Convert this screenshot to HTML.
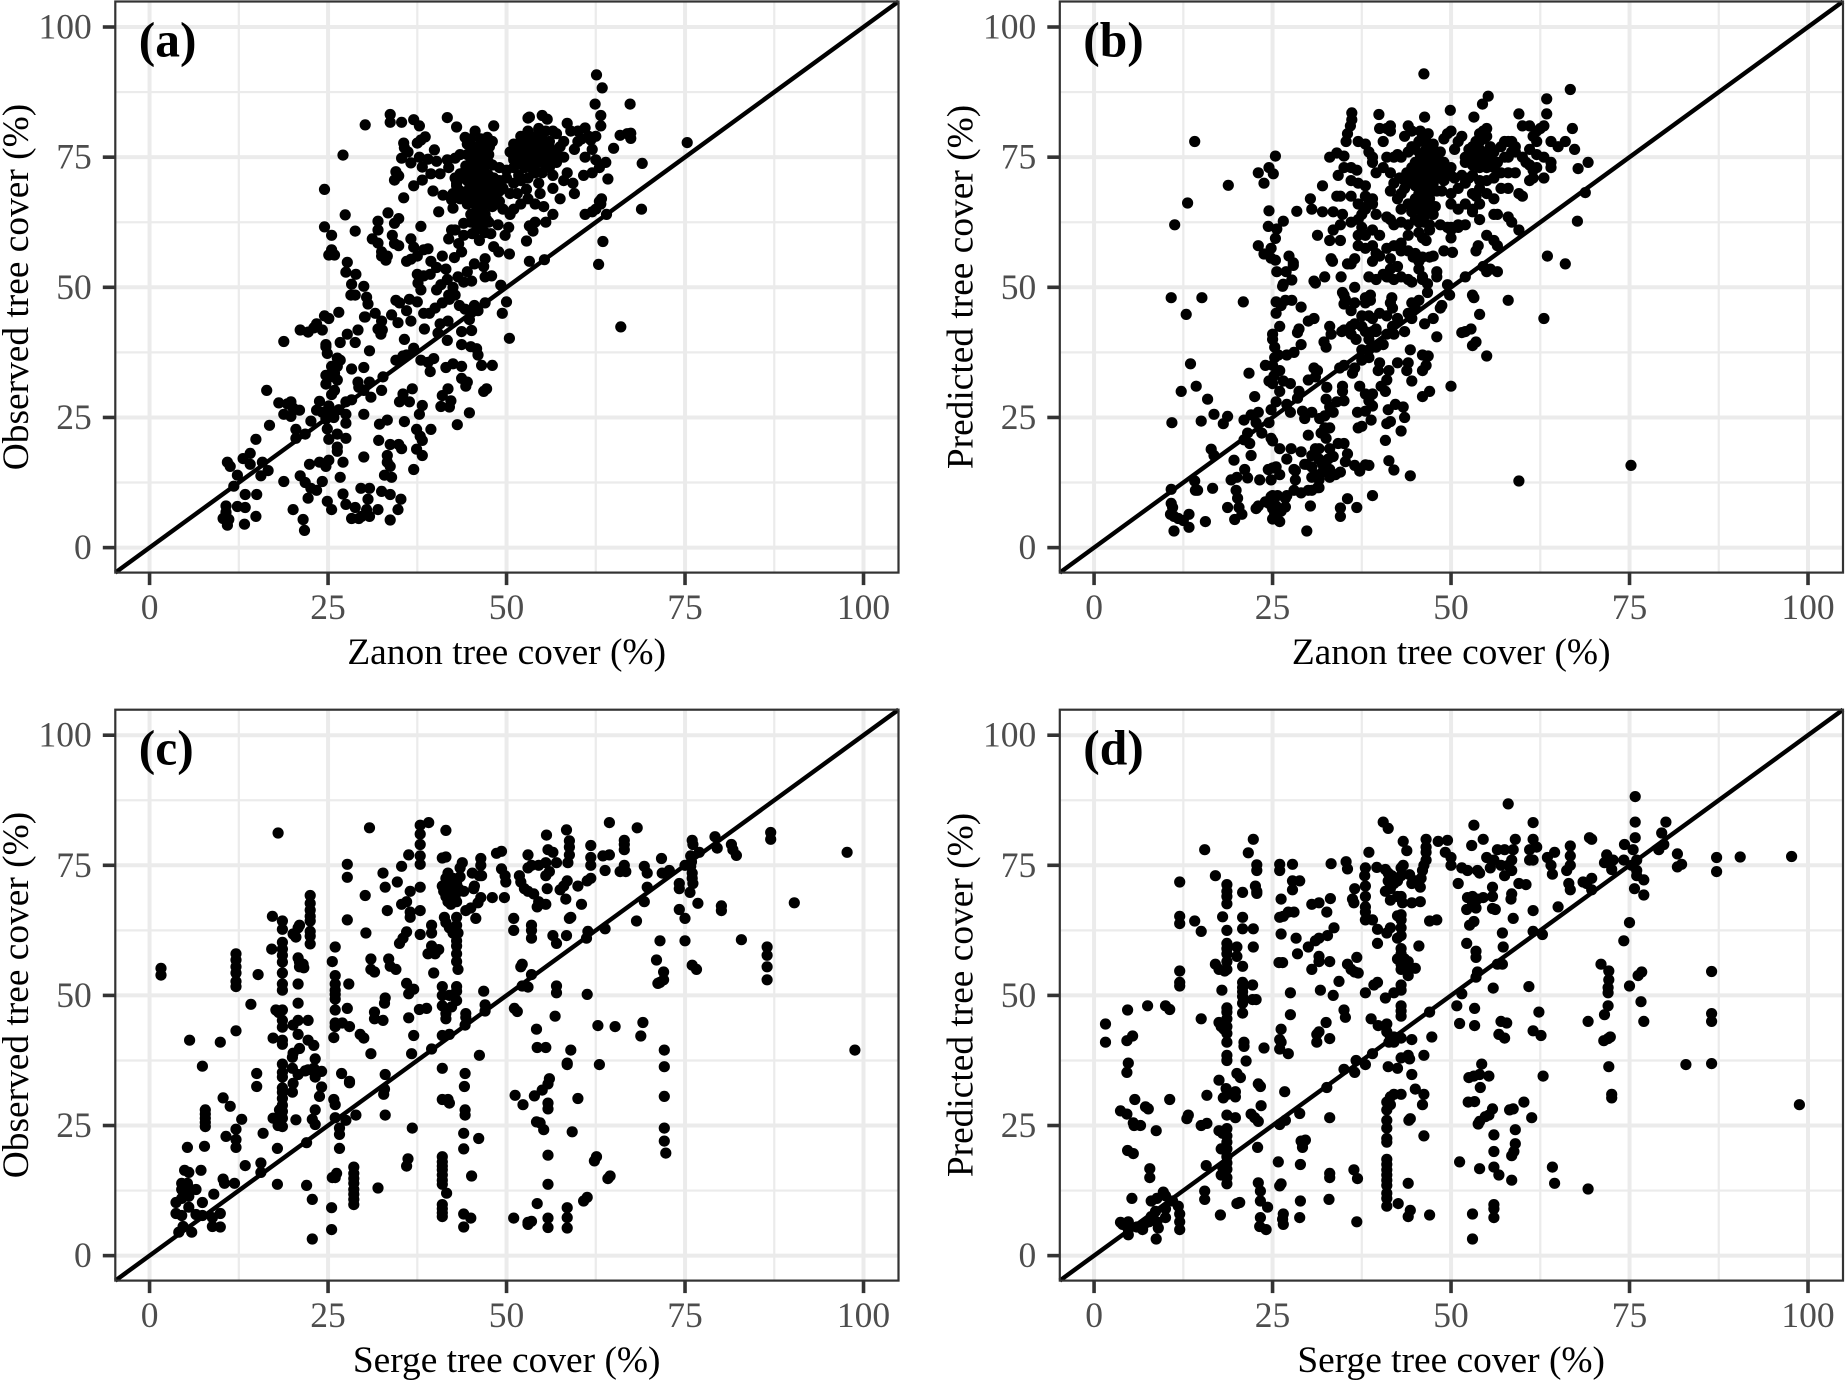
<!DOCTYPE html>
<html lang="en">
<head>
<meta charset="utf-8">
<title>Tree cover scatter plots</title>
<style>
html,body{margin:0;padding:0;background:#fff;width:1845px;height:1380px;overflow:hidden}
svg{display:block}
text{font-family:"Liberation Serif",serif}
.tick{font-size:35.5px;fill:#4d4d4d}
.title{font-size:37.4px;fill:#000}
.tag{font-size:49.5px;font-weight:bold;fill:#000}
</style>
</head>
<body>
<svg id="chart" xmlns="http://www.w3.org/2000/svg" width="1845" height="1380" viewBox="0 0 1845 1380">
  <rect width="1845" height="1380" fill="#fff"/>
  <g id="panel-a">
    <text class="title" x="506.7" y="664" text-anchor="middle">Zanon tree cover (%)</text>
    <text class="title" transform="translate(28,287) rotate(-90)" text-anchor="middle">Observed tree cover (%)</text>
  </g>
  <g id="panel-b">
    <text class="title" x="1451.2" y="664" text-anchor="middle">Zanon tree cover (%)</text>
    <text class="title" transform="translate(972.5,287) rotate(-90)" text-anchor="middle">Predicted tree cover (%)</text>
  </g>
  <g id="panel-c">
    <text class="title" x="506.7" y="1372" text-anchor="middle">Serge tree cover (%)</text>
    <text class="title" transform="translate(28,995) rotate(-90)" text-anchor="middle">Observed tree cover (%)</text>
  </g>
  <g id="panel-d">
    <text class="title" x="1451.2" y="1372" text-anchor="middle">Serge tree cover (%)</text>
    <text class="title" transform="translate(972.5,995) rotate(-90)" text-anchor="middle">Predicted tree cover (%)</text>
  </g>
</svg>
<script>
const majorTicks = [0, 25, 50, 75, 100];
const minorTicks = [12.5, 37.5, 62.5, 87.5];
const axisRange = [-4.8, 104.9];
const tagLabels = ["(a)", "(b)", "(c)", "(d)"];

const zanonObserved = [
[10.9,16.4],[11.3,15.6],[12.3,13.9],[11.8,11.8],[13.1,17.1],[14.1,18.1],[14.1,16],[14.9,20.8],[15.8,16.4],[16.6,14.8],[15.6,13.8],[18.8,12.7],[10.7,8],[10.7,6.8],[10.3,5.6],[11.1,5.4],[10.9,4.3],[12.3,7.9],[13.4,7.7],[13.4,10.2],[15,10.2],[13.3,4.5],[14.9,6],[20.1,7.3],[21.5,5.4],[21.7,3.3],[21.1,13.8],[21.8,12.5],[22.4,16],[22.6,11.4],[22.2,9.5],[23.4,11],[24.2,12.7],[23.8,16.4],[24.7,15.6],[25.1,16.8],[24.9,8.9],[25.5,7.3],[27.1,10.3],[27.5,8.3],[28.3,5.6],[29.3,5.6],[28.8,7.7],[29.6,11.4],[30.8,11.4],[30.6,9.3],[30.4,7.3],[30.8,6],[29.7,6],[32.5,10.8],[33.7,10.2],[32,7.3],[34.8,7.3],[35.2,9.3],[33.7,5.3],[27.1,16.4],[26.7,13.5],[30,17.4],[27.5,21],[26.3,18.5],[26.3,19.3],[25.1,20.8],[32.2,23.7],[33.3,24.5],[32.1,20.6],[33.7,19.8],[33.3,17.7],[33.3,16.4],[33.7,15.6],[32.9,13.9],[33.9,13.5],[34.9,19.8],[35.3,19],[37,15],[38.2,17.7],[37.4,18.9],[38.2,20.6],[39.4,22.7],[37.4,22.7],[37.9,21.4],[35.7,24.2],[37.8,25.6],[38.2,27.3],[30,25.6],[27.5,25.6],[27.5,23.9],[26.3,21.8],
[23.4,26.4],[23.8,28.1],[24.2,26],[25.1,27.2],[24.7,24.7],[25.5,29.4],[25.9,30.2],[24.7,31.4],[25.1,32.7],[25.9,33.5],[26.3,34.8],[26.7,36],[26.3,36.4],[25.5,34.8],[24.7,33.1],[27.5,28],[28.3,28.4],[26.3,32.2],[28.3,34.3],[30,34.6],[29.2,31.8],[29.3,30.8],[30.8,31.8],[31,28.9],[32.7,32.8],[32.5,30.2],[30,30.2],[22.6,24.3],[20.5,22.7],[20.5,21],[21.8,21.8],[24.9,22.8],[25.5,26],[26.5,26.5],[25.8,25],
[16.4,30.2],[18.1,27.8],[19.3,27.6],[19.8,28],[20.1,26.8],[21,26.4],[18.8,25.6],[19.8,25.2],[16.8,23.5],[18.8,39.6],[21.1,41.8],[22.2,41.4],[23,42.2],[23.4,43],[24.2,41.8],[24.5,44.5],[25.1,44],[26.5,45.2],[24.7,38.6],[24.9,37.3],[24.7,39],[26.7,39.4],[27.7,41],[28.8,39.4],[29.2,41.8],[30.2,44.3],[34.5,47.5],[35,47],[36.4,47.7],[36,45.5],[37.5,47.2],[38.4,45],[36.6,43.5],[38.5,42],[34.8,43.2],[35.7,40],[35.5,36.8],[34.5,36],[36,37],[37,38.3],[38,36],[39,35.6],[39.8,36.3],[39.3,33.8],[41.5,34.6],[42.5,35.3],[43.7,34.8],[43.7,32.5],[44.5,31.8],[44.3,31],[46.8,30],[47.2,30.5],[48,35],[46.5,35],[46,37],[45.8,38.2],[45,38.6],[43.7,39],[30.8,37.8],[32.4,41],[35,28],[35.5,29.5],[36.4,28],[36.8,30.5],[41,29.2],[41.8,30.5],[40.8,27.1],[42,27],[42.2,28.2],[44.8,25.9],[43.1,23.6],
[27.1,75.4],[24.5,68.8],[27.4,63.9],[24.5,61.6],[25.5,60],[28.8,60.8],[25.5,57.2],[25.1,56.2],[25.9,56.2],[27.7,54.8],[27.5,52.9],[28.9,52.5],[28.3,50.6],[28.2,48.5],[28.8,48.5],[30,50.2],[30.4,48.1],[30.6,46.8],[31.6,45],[30.1,44.3],[32.5,43.5],[32,42],[33.9,44.7],[32.6,41.8],[30.2,81.2],[33.7,83.2],[33.7,81.7],[35.3,81.7],[37,82.2],[37.8,81],[41.7,82.6],[43,80.8],[48.2,81],[38.6,78.9],[38,78.3],[37.5,77.7],[35.6,77.7],[35.7,76.8],[36.2,76],[35.3,74.8],[36.6,73.9],[37.8,75],[39,74.6],[40.2,74.2],[39.9,76.4],[41.7,74.5],[41.9,73],[40.7,71.8],[39.4,71.8],[38.2,73.1],[34.5,72.2],[34.9,71.4],[34.3,70.6],[37,69.5],[38.2,70.6],[35.6,67.2],[39.7,68.5],[41.1,67.7],[42.3,66.8],[40.5,64.5],[42.5,65.2],[33.4,64.3],[34.9,63.2],[34.3,62.3],[32,62.7],[32,61],[31.2,59.3],[32,58.5],[34,60],[34.3,58.4],[34.9,58],[32.5,56.8],[33.3,56],[32.5,56],[33.1,55.2],[38,61.7],[36.6,59.3],[37,57.7],[37.5,56],[38.4,57.2],[39,57.4],[36,55],[36.6,55.4],[39.4,55],[40.2,53.8],[41,56],[41.9,59.3],[42.3,61],[41.5,53.5],
[37.5,52.5],[38.4,52.2],[39.3,52.5],[37.6,50.8],[38,49.5],[40.2,49.5],[40.8,50.5],[41.7,51.5],[42.5,50],[41.9,48.5],[42,47.7],[42.8,48.5],[41,47],[40,46],[39.2,45],[41.8,43.5],[40.7,43],[40.4,41.2],[41.7,39.8],[43.4,46.5],[44.2,45.8],[45.1,45.2],[44.8,43.8],[43.7,41.5],[45.1,41.7],[45.5,46.5],[46,45.5],[47,47],[47.9,52.2],[49.4,45],[50,47.2],[49.2,50.4],[50.4,40.2],[55.3,55.3],[53.2,55],[43.2,52],[44,51],[45.1,51.2],[44.5,53],[45.5,54.5],[47,52],[47,55.5],[46.8,54],[48.2,57.8],[48.9,56.8],[50.4,56.4],[52.8,58.9],[49.8,60],[47.8,60.3],[46.2,59],[45.2,60.3],[44,60],[43.3,58.4],[43.7,56.8],[42.7,55.7],[45.8,63],[46.5,61.5],[47.5,62.5],[48.8,62],[50.3,61.5],[53.7,60.8],[53.2,61.8],[54,62.5],[55.5,62.5],[56.5,64],[42.8,61],[44,62.3],[45,64],[45.5,66],[46,65],[46.5,67],[47,64],[48,65.5],[49,66.5],[49.5,65],[50.5,64],[51,65],[52,66],[53,67],[54.7,68],[54,66],[55.2,65.5],[43.5,67],[44,68],[44.8,69],[43,69.5],[42.8,71],[44,71],[45,71.5],[45.5,70],[46.3,69.5],[47,69],[47.8,68.5],[48.5,68],[46,72],[46.8,72.5],[47.5,71.5],[48.2,71],[49,70.5],[45.2,73],[46,74],[47,74.5],[48,73.5],[49,73],[44.3,73.3],[43.5,71.8],[42.8,74.8],[43.5,75.5],[44.5,75.5],[45.5,75.8],[46.5,76],[47.5,75.5],[44.5,77.5],[45,78.5],[45.6,80],[46.4,78.5],[47.3,78.8],[48,78],[47.6,77],[46.8,77.5],[44.2,78.8],[50,72.5],[51,73],[50,71],[51,70],[52,70.5],[49.5,69],[50.5,68],[51.5,68],[52.8,68.8],[53,71],[53.8,72],[54.5,70],
[52,77.5],[52.5,76],[53,78],[53.5,77],[54,76],[54.5,75],[55,77],[55.5,76],[56,75],[53,75],[52,74],[51,74.5],[53.5,73],[54,74],[55,74],[56,73],[54,72],[55,72],[52.5,73],[53,74.5],[54,73.5],[55,75.5],[54,77],[56,77],[54,78],[55,78.5],[54.5,79],[56,78],[53.5,79],[52.5,78],[51.5,76.5],[54.5,80.5],[55.5,80],[55.7,82.3],[55,83],[53.2,82.7],[53,82.5],[57,79.5],[56.5,80],[58.5,81.5],[59,80],[60,80],[61,80.6],[62.5,79],[61.8,78.3],[60.5,78.5],[61.5,79],[60,78],[59.5,76.5],[61,75],[62,76.5],[62.5,74.5],[63,73],[62,72],[60.8,71.5],[59.3,70],[59.5,68],[58,70.5],[58.5,72],[56.5,71.5],[57,74],[58,75],[57,76],[58,78],[57.5,77],
[62.6,90.8],[63.4,88.3],[62.4,85.2],[67.3,85.2],[63.2,83],[63.2,81],[75.3,77.8],[69,73.8],[68.9,65],[66,42.4],[62.9,54.4],[63.5,58.8],[64.2,70.8],[63.9,74],[65,76.7],[65.9,79.2],[66.9,79.5],[67.4,79.6],[67.4,78.6],[63,66.5],[63.2,66],[64,64],[62.5,65],[62,64.5],[61,64],[63.3,67],
[44,72],[44.5,70.5],[45,72.5],[45.5,72.5],[46,71],[46.5,70.5],[47,70.5],[47.5,68],[46,68],[45.5,69],[44.8,67.5],[44.5,66],[45.5,67],[46.5,66],[47,66],[47.5,66],[46,64],[45,62.5],[46.5,62.8],[47,60.5],[48.5,69.5],[48,70],[46.8,73.5],[46.2,75],[45,74.8],[47,77.5],[46,77],[45,77],[47.5,74],[43,70],[43.5,68.5],[42.5,68],[48,67],[49,68.5],[48.5,66],[47.2,63],[46.6,64],[45.8,61],[50.5,76],[51,75],[52,75.5],[51,77.5],[52,79],[53,80],[51.7,71.5],[56.5,69],[57.5,67]
];

const zanonPredicted = [
[46.2,91],[75.2,15.8],[59.5,12.8],[66.7,88],[63.4,86.2],[55.2,86.7],[54.4,85.2],[49.9,84],[59.5,83.3],[63.4,83.3],[53.2,82.7],[46.3,82.7],[39.9,83.2],[36.1,83.5],[36.1,82.2],[35.9,81],[35.5,79.5],[35.3,78],[14.1,78],[13.1,66.2],[11.3,62],[18.8,69.6],[25.4,75.2],[23,72],[24.5,73],[25.1,71.8],[23.8,70],[24.5,64.7],[24.4,61.7],[26.5,62.7],[25.6,61.2],[25.4,59.4],[23,58],[24.8,57.5],[23.8,56.4],[24.8,55.6],[25.4,55.2],[25.6,53],[26.9,53],[26.5,50.6],[26.4,50.2],[27.7,51.4],[27.3,56],[27.9,54.7],[27.9,54.2],[28.4,64.6],[10.8,48],[15.1,48],[12.9,44.8],[20.9,47.2],[10.9,24],[12.2,30],[13.5,35.3],[14.3,31],[15.9,28.5],[15,24.3],[16.8,25.6],[18.7,25.2],[18.1,23.8],[16.4,18.9],[16.8,17.7],[19.6,16.8],[10.8,11.2],[14.1,12.8],[14.5,11],[14.2,11],[16.6,11.4],[15.6,5],[10.8,8.5],[11,7.7],[10.7,6.4],[11.2,6],[11.8,5.6],[13.3,6.4],[12.5,5.2],[13.3,3.9],[11.2,3.2],[18.7,7.7],[19.7,5.4],[20.3,7.7],[19.9,11],[20.1,9.5],[20.7,6.4],[19.2,13],[20,13.5],[21.1,15],[21.5,13.4],
[22.7,7.5],[23,8],[24,8.8],[24.5,8.5],[25,10],[25.7,10],[25,7.5],[25.3,6.5],[25,5.5],[26,5],[26.2,7],[26.8,7.8],[26.8,9.5],[28,11],[29,10.5],[30.3,8],[29.8,3.2],[30.5,11],[31.5,11.5],[23.2,13],[24.4,15],[25,15.3],[25.5,15.5],[24.8,13],[26,14],[27,17],[27.6,19],[28.2,13],[28.2,14.8],[29,18.4],[29.8,16],[30.5,15.5],[31.5,19],[30.5,17.7],[32,16],[32,14.5],[33,15],[33,13.5],[33.8,14],[34.5,14.5],[35.2,16.5],[36.5,15.8],[38,15.9],[38.5,15.8],[37.2,14.7],[35.5,9.4],[36.8,7.7],[34.5,7.6],[34.5,6],[39,10],[41.3,16.7],[42,14.9],[44.3,13.8],[40.8,20.6],[43,22.4],[41.5,24.2],[41,23.8],[43.5,25],[43.3,27],[42.2,27.5],[41.2,26.5],[37,23],[37.5,23.3],[38.8,24.5],[38,26.2],[36.9,26],[39,27.2],[38.5,28.2],[39,29.5],[40.2,31],[41,32.2],[40.8,30],[38,29.5],[37.2,31],[34.8,31],[34.8,30],[32.6,30.8],[32.5,28.5],[34,28],[35,28.2],[33,27],[33.5,26],[32.3,25.3],[30.5,26],[29.2,26.2],[29.5,24.8],[31.6,24.8],[32.3,23],[31.8,22],[31,19],[30,21.6],[27.5,26],[27,27.5],[28.5,28.7],[28.7,30],[30,32.2],[31,32.8],[30.8,34.5],[31.3,34],[34.4,34.5],[35,35],[36.5,34.5],[36.2,33.5],[37.5,36],[38.5,36.5],[39.8,34],[41.3,34],[40,35.5],[42.5,35.5],[44,35.5],[43.8,34],[44.5,32],[46,34],[46.5,35],[46,37],[46.8,36.8],[44.3,38],[46,29],[47,30],[50,31],
[25,20.5],[24.8,21],[26,19],[23.5,22],[22.7,24],[23,26],[24.5,24],[24.8,26.5],[22,25.5],[21,24.5],[21.5,22],[21.8,20],[21,20.7],[22,17.7],[22.5,29],[25.5,28],[26,30],[25,31.5],[24.5,32],[25.2,33],[26.5,32],[26,34],[25,35],[24,35],[21.7,33.5],[27.5,31.5],
[25,41],[25,40],[25.3,38.5],[25.8,37],[25.3,36.5],[28,37.5],[27,37],[26,42.5],[28.7,42],[28.5,41.3],[29,39],[30,43.5],[30.8,44],[25.5,45],[26.2,46.5],[25.5,47.2],[26.8,47.5],[27.7,47.5],[29,46.2],[31,50.8],[30.8,51.2],[32.3,52],[33.4,55],[33.2,55.5],[33,59],[31.3,60],[34.6,52],[34.8,49],[35.2,47.7],[35,46.8],[35,48.5],[36.5,50],[36.5,47],[36,45.5],[33,42.5],[33.2,41],[34.7,41.5],[35,41.8],[36,42.5],[32.2,39.5],[32.5,38.5],[36,41],[36.7,40],[37.5,38],[38.5,40],[38.5,38],[39.5,38.5],[40.5,39],[39.5,42],[41,41],[42,41],[43.5,41.5],[41.8,42.5],[42.5,44],[44,45],[44.5,44],[45,46],[44.5,47],[45.5,47.5],[46.3,43],[46.7,49],[48.5,46],[48.7,46.5],[47.5,44],[48,40.5],[49.5,50.5],[49.8,48.5],[52,52],[53,48.5],[53.2,48],[54,44.8],[52.8,42],[52,41.5],[51.5,41.3],[53.5,39.5],[53,38.8],[55,36.8],[58,47.5],[63,44],[63.5,56],[66,54.5],[55,53],[55.5,53.5],[56.5,53],[54.5,54],[55,60],[56,59],[56.5,58],[53.5,57],[53.8,58],[50.2,56.7],[49,57],[50,59.5],[48.5,62],[50,61.5],[51,61.5],[52,62],
[38,47],[38,48],[38.7,47.5],[38.7,48.5],[37.5,44.5],[39,44],[40,45],[41,44.5],[41.5,47],[41.7,48],[41.8,46],[36.5,43],[37.5,42.5],[38,41.5],[39,41.5],[39.5,41.5],[38.5,44.5],[38.5,52],[39.5,51.5],[41,52],[42,51.5],[40.5,52.5],[41.3,52],[43,52],[44,51.5],[44.5,51],[46,51.5],[46.7,50.7],[46,52],[48,53],[48,52],[45.5,55],[46,55.8],[47,55.8],[47.5,56],[45.5,53.5],[36,54.5],[35.5,54.5],[36.5,55.5],[37,58],[38,57.5],[39,58],[39.5,56.5],[40,56],[41,57.5],[42,58],[41.5,55.5],[43,57],[44,57],[44.7,55.8],[45,56.5],[39,55],[42.5,54],[41.5,53.5],[38,60],[39,61],[37,60],[37.5,61.5],[40,60],[43,58.5],[44,60],[46,59.5],[46.5,59],[34.5,59],[33.5,61],[34.5,62],[36,62.5],[37,63],[37.5,64],[34.8,64],[32,64.5],[33.5,64.5],[30.5,65],[30.3,67],[32,69.5],[34,67.5],[36,67.5],[37,66],[38,65],[39,66],[39.5,64],[41,63.5],[41.5,63],[42,62],[43,62.5],[44,62],[45,63],[45.5,62.5],[46,63.5],[47,62],[47.5,64],[47.8,65.5],[49.5,61.5],[50,61],[51,62],[53,64.5],[54,63],[56.5,64],[58,63.5],[58.5,62.5],[59.5,61],[59.5,68],[60,67.5],[58,69],[57,69],[56,67],[55,68],[54,66],[53,65],[52,66],[51,65],[50,66],[50,68],[51,69],[52,70],[53,68],[53.5,67.5],[54,69],
[33,75],[34,75.8],[35,75.2],[34.2,71.5],[34.5,67.5],[35,73],[36,73],[36.8,72.5],[36,70.5],[37,70],[38,69.5],[38,67.5],[39,67],[38.5,66],[37,78],[38,77.5],[38.5,76],[39,75],[39,74],[40.5,78],[40,80.5],[41,80.5],[41.5,81],[41.5,80],[44,81],[44.5,80],[43.5,79],[42,75],[41,75],[42.5,75.5],[43,75],[44,76],[44.5,77],[45,76.5],[45.5,78],[45.7,80],[46,79],[46.8,79.5],[46.5,78],[47.3,76],[47,75],[46,75],[45,74],[44.5,73],[43.8,72],[42.8,71],[41.5,72],[40.5,73],[39.5,72],[42,70],[41.5,68.5],[42.5,67],[43,68],[43.5,69],[44,70],[45,69.5],[45.5,71],[46,72],[46.5,73],[47.5,73],[48,74],[48.5,71],[49,70.5],[46,70],[46.5,69],[47,68],[47.5,70],[45.5,68],[45,67],[46,66.5],[46.5,65.5],[47,67],[44,66],[44.5,64.5],[43,65],[48,75],[48.5,76],[49,78.5],[49.5,79.5],[50,80],[50.5,76.5],[51,78],[51.5,79],[49,74],[50,73],[50.5,71],[51.5,71.5],[52.5,71],[53,71.5],[54,70.5],[55,70.5],[56,71],[57,72],[58,72],[59,72],[52,74],[52.5,75],[53,76],[53.5,75],[54,75],[54.5,76],[55,75],[55.5,74],[56,73],[56.5,74],[53,77],[53.5,78],[54,78],[54.5,78.5],[55,79],[54,79.5],[54.5,80],[55,80.5],[53.5,74],[54,73],[55,73],[55.5,77],[56,76],[57,77],[57.5,75],[58,75],[58.5,76],[59,77],[58,78],[59,76],[60,75],[60.5,74],[61,73.5],[61.5,72.5],[62,73],[61.5,71],[61,70.5],[63,71],[64,73],[64,74],[63,75],[62,75.5],[61,76.5],[62,78],[61.5,79],[62,80],[62.5,80.5],[63,81],[61,81],[60,81],[64,78],[65,77],[66,78],[67,80.5],[67.3,76.5],[67.8,72.8],[68.8,68.2],[69.2,74],[67.7,62.7],[57.5,78],[58.5,78],[56,64],
[45,72],[45.5,73],[46,73.5],[46.5,74],[47,72],[47.5,72],[46,71],[46.5,71],[45,70],[45.5,70],[46.7,70],[47.2,70.5],[46,68],[46.5,67.5],[47,66],[45.3,66],[45.5,65],[46.5,64],[45.7,75.5],[46.5,76.5],[47.5,77.5],[44.7,71],[44,71.5],[43.5,70.5],[48,71.5],[48.5,72.5],[49,72],[50,71.5],[47,69],[48,68.5],[48.7,68.5],[46.2,62.5],[47,61],[45.5,60.5],[52,75],[53,73.5],[54,76.5],[55,76],[55.5,75.5],[54.5,74],[52.5,76.5],[53.5,76],[28,15],[29.5,16],[31,14],[31.5,13],[32.8,17],[33,19],[31.5,17],[30.5,13.5],[30,11],[31.3,11.5],[33.5,17.5],[32.5,21],[33,23],[34.2,20],[35,20],[35.5,18],[27,10],[25.5,8],[24.8,9.8]
];

const sergeObserved = [
[1.6,55.2],[1.6,53.9],[5.6,41.4],[7.4,36.4],[9.9,41],[18,81.2],[30.8,82.2],[39.1,83.2],[37.9,82.7],[37.9,81],[37.9,79],[37.9,76.8],[37.9,75.2],[36.3,77],[41.5,81.7],[41,76.4],[41.5,76.6],[35.3,74.8],[34.7,71.8],[32.7,73.5],[33,70.8],[27.7,75.2],[27.7,72.7],[30.2,69.2],[27.7,64.5],[33.3,66.3],[36.5,70],[36,68],[35.3,67.5],[36.5,66],[36.5,65],[37.9,70.8],[37.9,66.3],[37.9,61.7],[30.3,62],[36,62.2],[35.5,61],[35,60],[39.5,63.5],[39.5,62],[39.5,59.5],[39,58],[40,58],[40.5,58.8],[39.8,54.3],
[22.5,69.2],[22.5,67.7],[22.5,66.4],[22.5,65.2],[22.5,64.3],[22.5,62.3],[22.5,61.4],[22.5,59.9],
[18.6,64.3],[18.6,62.7],[18.6,60.2],[18.6,58.9],[18.6,57.7],[18.6,56.4],[18.6,54.3],[18.6,52.2],[18.6,51],[18.6,47.2],[18.6,45.2],[18.6,43.9],[18.6,41.4],[18.6,40.6],[18.6,36.8],[18.6,35.2],[18.6,34.3],[18.6,32.2],[18.6,31.4],[18.6,30.2],[18.6,28.9],[18.6,27.7],[18.6,26.4],[18.6,24.8],
[17.2,65.2],[17.1,58.9],[17.7,47.2],[18.1,46.7],[17.3,41.8],[17.3,26.4],[17.9,20.6],[17.9,13.7],[21,63.5],[20.1,61.8],[20.5,61.2],[20.8,63],[20.8,57.2],[21,56.4],[21.6,55.3],[20.8,52.2],[20.8,48.5],[20.8,45.2],[20.1,44.3],[20.8,42.5],[20.1,38.9],[21,39.8],[20,38.1],[20,36],[20.8,34.8],[20.1,33.1],[20,31.4],[20.5,26.1],[18,25],[17.8,26.2],[18.2,28],[21.5,56],[21,55.5],
[22.2,45.2],[22.2,41.4],[23,40.4],[23.2,37.8],[23,36],[22.2,35.7],[21.8,35.5],[23.2,34.3],[24.1,35.4],[24.1,32.4],[23.8,30.6],[23.2,28],[22.8,26.2],[23.2,25.2],[22,21.7],[22,13.5],[22.8,10.8],[22.8,3.2],
[12.1,58],[12.1,56.8],[12.1,55.5],[12.1,54.3],[12.1,52.7],[12.1,51.7],[12.1,43.2],[12.1,24.3],[12.1,22.3],[12.1,20.8],[11.3,28.7],[10.3,30.3],[12.9,26.2],[10.7,22.9],[15.2,54],[14.2,48.3],[15,35],[15,32.5],[15.9,23.5],[13.4,17.3],[15.6,17.8],[15.6,16],[10.3,14.7],[10.5,13.9],[11.9,13.9],
[7.8,28],[7.8,27.2],[7.8,26.4],[7.8,25.6],[7.8,24.8],[7.7,21],[5.3,20.8],[7.2,16.4],[4.9,16.4],[5.5,16],[4.5,13.9],[5.3,13.9],[4.5,12.7],[5.5,13],[6.5,12.7],[5.5,11.4],[4.5,11],[3.7,10.2],[5.5,9.3],[7.4,10.2],[9,11.8],[3.7,8.1],[4.5,7.7],[6.5,7.9],[7.4,7.7],[8.8,7.3],[8.8,5.6],[9.9,8.1],[9.9,5.5],[4.1,4.5],[4.7,5.6],[5.9,4.5],
[26,59.3],[26,53.8],[26,52.2],[26,51],[26,50.2],[26,49.3],[25.6,56.5],[27.7,47.5],[26,47.2],[26,44.7],[26,44],[25.8,41.9],[27,44.7],[28,44],[29.5,42.5],[30,41.8],[27.9,52.2],[28,33.2],[28,33.5],[26.9,35],[25.8,30],[26,29],[26,26.5],[27.5,26],[26.6,24.5],[26.6,23.3],[26.6,20.6],[28.9,27],[25.6,15],[26.2,15.8],[26,15],[28.6,17],[28.6,15.8],[28.6,14.8],[28.6,13.9],[28.6,12.7],[28.6,11.8],[28.6,10.8],[28.6,9.8],[32,13],[25.5,9.2],[25.5,5],
[31,57],[31,55],[31.5,54.5],[33.5,57],[33.7,55.6],[34.5,55],[33,49.5],[32.9,48.5],[31.5,46.8],[31.5,45.5],[32.7,45.2],[36,52.3],[36.3,50.3],[37,51.2],[36.3,45.7],[37.8,47.3],[38.8,47.5],[37,42.3],[36.7,38.8],[39.5,39.7],[31,38.8],[33,34.8],[32.9,32],[32.8,31],[33,27],[36.8,24.5],[36.2,18.6],[36,17.2],
[41,51.7],[41,50],[41,48],[41.5,46.5],[41.5,45.5],[42.3,47.8],[42,50],[43,51.7],[43,50.8],[43,49],[42,42.5],[41,42.3],[41,36],[41,30],[41.8,30],[42,29.3],[41,19],[41,18],[41,17.2],[41,16.5],[41,15.5],[41,14.5],[41,13.7],[41.6,12],[41,9.8],[41,9],[41,8.2],[41,7.5],[44.2,27],[44.2,28],[44,23.5],[44,20.5],[44.2,35],[44.1,32.5],[44.3,46.5],[44.3,45.8],[44.2,44.3],[44,8],[44,5.5],[45,7.2],[45.1,15.3],[46.1,22.5],[46.2,38.5],
[41,71],[41.2,70],[41.5,72.5],[41.8,73.5],[42,72],[42.2,71],[42.5,70],[42.8,69],[43,68],[41.5,69],[41.8,68],[42.5,72.5],[43,71.5],[43.3,70.5],[43.5,72.8],[43.8,75.5],[43.5,74.5],[44,70],[42.2,67.5],[41.3,65],[41.5,64],[42,63],[42.5,62],[43,63.5],[43,65],[43.2,62],[43,60.5],[43,59.5],[43,58],[43,56.5],[43.2,55],[44.3,66.3],[45,66.8],[45.7,64.8],[46,67.8],[46.4,68.8],[45.4,70.5],[45.5,71],[46.2,73],[46.5,73],[45.2,73.5],[46.4,75],[46.4,76.3],[48,68.8],[49.7,68.8],[48.6,77.3],[49.3,77.7],[49.3,74.3],[49.8,73],[49.9,71.8],
[46.8,50.8],[47,48.2],[47,47],[51.1,47.5],[51.5,46.9],[52,55.5],[52.2,56],[52.2,51.8],[53,51.6],[53.5,54],[57,51.8],[57,50.5],[56.8,46],[55.5,67.5],[53.5,63.5],[53.5,62.5],[53.5,61],[51,64.8],[51,62.5],[51.8,73],[52,71.8],[52.5,70.5],[53,70],[53.8,69.5],[54.5,68],[54.3,67],[53,77],[53.5,75],[53,74.5],[54.5,75],[55.5,75.5],[55.5,73],[56,73.8],[55.7,70.5],[55.6,80.8],[55.8,78],[56.5,77.5],[57,75.5],[57.5,70.3],[58,71],[58.5,72],[58.3,68.5],[58.6,75.5],[58.8,77],[58.8,78.5],[58.8,79.7],[58.4,81.8],[59,65],[58.8,64.8],[56.5,61.5],[58.4,61.5],[57,60],[60,71],[60.5,67.5],[61.3,72],[61.8,72.5],[61.8,75],[61.8,76.5],[61.8,78.8],[61.4,62.3],[61.2,61],[63.8,62.8],[63.5,76.8],[64.4,77],[63.8,74],[64.4,83.2],[66.5,79.8],[66.5,79],[66.5,78],[66.5,75],[65.9,73.8],[66.7,73.8],[68.2,64.3],[68.3,82.2],[69.3,74.8],[69.7,73.5],[69.7,70.8],[69.3,68],[71.7,76.3],[71.8,73.5],[72.8,74],[74.2,71.5],[74.2,70.5],[74.2,66.5],[75,64.8],[75,60.5],[71.5,60.5],[71,56.8],[72,54.5],[72,53],[71.5,52.5],[71.2,52.3],
[54.2,43.5],[54.3,40],[55.5,40],[59,39.5],[58.5,37],[58.5,36.7],[56,34],[55.8,33],[53.9,30.7],[55,31.8],[55.8,29.3],[55.8,28.2],[60,30.2],[51.2,30.8],[52.3,29],[54.2,25.7],[54.7,25.5],[55.2,24.2],[59.2,23.8],[63,36.7],[62.8,44.2],[61.3,50.2],[65.2,44],[68.8,42.2],[69.1,44.8],[72.1,39.5],[72.1,36.3],[72.1,30.6],[72.1,24.5],[72.1,22],[72.3,19.7],[55.8,19.3],[62.3,18.2],[62.6,19],[64.2,14.8],[64.5,15.3],[61.3,11.2],[60.8,10.5],[55.8,13.7],[54.3,10],[58.5,9.2],[51,7.2],[53,6],[53,6.4],[53.5,6.6],[55.8,7.2],[55.8,5.4],[58.5,7.3],[58.5,5.3],
[76,79.8],[76.1,79],[75.8,76.8],[75.9,75.7],[75.8,74.8],[76,73.5],[76,72.5],[76.1,71.5],[75.7,69.8],[76.8,67.7],[77,77.5],[75,75],[79.2,80.5],[79.5,78.3],[81.5,79],[81.7,78],[82.2,76.9],[87,81.3],[87,80],[97.7,77.5],[90.3,67.8],[80.1,67.2],[80.1,66.3],[82.9,60.7],[86.5,59.3],[86.5,57.7],[86.5,55.5],[86.5,53],[76,55.8],[76.6,55],[98.8,39.5]
];

const sergePredicted = [
[1.6,44.5],[1.6,41],[4.7,47.2],[7.5,48],[10,48],[10.6,47.3],[5.4,42.2],[4.6,41.3],[4.8,37],[4.6,35.2],[5.7,30],[10.6,30],[7.2,28.6],[7.6,28.2],[3.7,27.8],[4.6,27.2],[5.5,25.5],[5.6,25],[6.5,25],[8.7,24],[4.7,20.2],[5.5,19.6],[7.8,16.7],[7.8,15],[5.3,11],[8,10.5],[8.8,11],[9.7,12.2],[10,11.5],[11,10.5],[3.7,6.4],[4,6],[4.8,6.5],[4.8,5],[4.8,4],[6,5.5],[6.8,5],[7,6],[7.7,6.5],[8,7.5],[8.6,8.5],[8.8,6.5],[9,5.3],[8.7,3.2],[10,7.3],[10,9],[11.8,9.5],[12,8],[12,6.5],[12,5],
[12,71.8],[12,65.2],[12,63.8],[12,54.7],[12,52.5],[12,51.8],[14.1,64.3],[15,62.3],[15.5,78],[17,73],[18,65.1],[17,56],[17.5,55],[18.3,54.7],[17.9,51],[15,45.5],[17.5,44.8],[17.8,44],[18.2,43.5],[13,26.3],[13.2,27],[15,25],[15.8,25.4],[15.8,30.8],[17.5,33.7],[18.1,30.3],[18.5,32.1],[18.7,31],[15.7,17.3],[15.5,12.4],[15.5,10.8],[17.7,7.8],
[18.6,71.3],[18.6,70],[18.6,69],[18.6,67.6],[18.6,62.5],[18.6,60],[18.6,59],[18.6,58],[18.6,56.5],[18.6,55],[18.6,47.6],[18.6,46.8],[18.6,45.5],[18.6,44],[18.6,42.7],[18.6,41],[18.6,38.5],[18.6,37.5],[18.6,27],[18.6,24.4],[18.6,23],[18.6,21.8],[18.6,20.5],[18.6,19],[18.6,17.8],[18.6,16.6],[18.6,15],[18.6,13.8],[17.5,24],[18,23.5],[17.8,20.5],[18,17],[17.8,15.5],
[20.8,69.8],[20.8,65],[20.8,62.8],[22.3,62.8],[22.3,59.3],[20,59.3],[20,57.5],[20.8,55.6],[20.8,52.5],[20.8,51.5],[20.8,50.7],[20.8,49.8],[20.8,48.5],[20.8,46.6],[22.2,52],[22.2,49.2],[22.7,49.2],[21,41],[21,40.2],[21.3,37.4],[20,35],[20.5,34.2],[19.8,31.5],[19.8,30.5],[19.8,26.5],[22,27.2],[22.5,26.5],[23,25.8],[23,33],[23.3,32.5],[23.4,28.8],[23.8,39.9],[22.9,20.8],[23,14],[23.3,12.4],[23.3,10.5],[24.3,9.3],[23.3,7.3],[23.2,5.6],[24.1,5],[20,10],[20.4,10.2],[22.3,80],[21.6,77.4],[22.8,75.1],[22.8,74],[22.6,71],[22.8,70],[22.8,69.6],
[26,75.2],[26,74],[26.2,68.5],[26,65],[26.5,65.2],[27.2,66],[28,66],[26.2,61.8],[25.9,56.3],[26.4,56.3],[28.5,58],[28.3,61],[28.8,72],[27.8,72],[27.8,70.3],[27.8,75.2],[27.5,50.5],[27.5,46.3],[26.2,43.5],[26,41.5],[26.2,41],[26,39.7],[27.2,38.8],[26.7,31.5],[26,25.2],[26.8,26],[28.8,27.3],[29,22],[29.2,21.5],[29.6,22.2],[29.2,20.8],[28.9,17.5],[25.8,18],[26,13.4],[26.2,13.8],[28.9,10.5],[26.5,8],[26.4,7],[26.5,6],[28.8,7.3],
[30,59.3],[31,60.5],[31.5,61],[31.5,57.5],[31.5,56.5],[30.5,55],[31.7,51],[30.5,67.5],[31.5,67.8],[32.6,66],[33.1,68.6],[33.2,75.3],[32.7,61.5],[33.6,63],[33,56.5],[33.5,50],[34.3,52.7],[35,47.2],[35.2,45.8],[35.3,75.7],[35.5,74.3],[35.5,56],[36,55],[36.5,54.5],[37,54.3],[36.8,57.3],[36.5,70.5],[36.2,68.5],[36.4,67.8],[38,74.5],[37.9,73],[38,71],[38,69],[38,67],[38,66],[38,64.5],[38.5,77.5],[39,64.5],[39.7,62.7],[39.7,60],[39.6,74.6],[38,50.5],[39.2,52],[39.7,52.5],[38.8,45.5],[39.8,44.2],[31.5,43],[31.2,42.5],[31.2,41],[32.5,44.8],[33,41.7],[32.6,32.3],[33,26.5],[33,15.8],[33,15],[32.9,10.8],[35,35.8],[36.5,35.2],[36.7,37.5],[38,36.7],[39,38.8],[36.4,16.5],[36.9,14.8],[36.8,6.5],
[40.5,83.3],[41.2,82.1],[40.8,74.2],[41.2,73.5],[41.7,73],[41.2,72],[41.5,71],[40.8,70],[41.5,70.5],[42,71.5],[42.5,72],[43,73],[43,74.5],[43.3,75],[44.2,73.2],[44.5,71.5],[45,72],[43.3,79.6],[43.8,77.8],[46,74],[46.2,75],[46.5,76],[46.5,77.5],[46.5,78.5],[46.5,80],[45.8,72.5],[45.7,70.8],[45.7,68],[44.5,67.8],[41.5,68.3],[42.5,69],[43,69],[43.2,67.8],[42.5,65.3],[43,65.5],[43,64.5],[43,63],[43,61.5],[42.5,61],[41,62],[41.5,63],[47,64.3],[48,64.5],[45.5,59.5],[43,59],[43,58],[42.5,57],[43,56],[43.5,57],[44,56.5],[43,55],[44,55],[45,55.2],[44,53.8],[43,52],[43,51],[42,50.5],[40.8,49.5],[43,48],[43,47],[43,46],[41,44.5],[41,43],[41.5,42],[41.3,41],[42,42],[43,41.8],[44.5,41.5],[46.2,38.5],[42,41],[43,38],[44,38.5],[44.2,37.8],[41.2,36.3],[42.5,36],[44.5,34.8],[45,32],[46.2,31],[46,29],[41.5,30.5],[42,31],[43,31],[41,29.5],[41.5,29],[41,28],[41,26],[41,24.5],[41,22.5],[41,21.8],[44.1,26],[44.3,26.3],[46.2,23],[41,18.5],[41,17.5],[41,16.5],[41,15.5],[41,14.5],[41,13.5],[41,12],[41,11],[41,9.5],[42.6,10],[44,13.9],[44.3,8.7],[44,7.5],[47,7.8],[47,46.8],[47.3,42],
[48.2,79.6],[49.5,79.8],[49.2,77.5],[50,75],[50,76.5],[51.5,74.5],[52.3,74],[51,71.5],[50.8,48],[51.2,44.6],[51.5,50.3],[52.2,60],[52.6,63.5],[52.2,66.5],[52.3,68.8],[53,69],[53,67.5],[53.7,68.5],[53.5,66.8],[53.2,64.2],[53.7,74],[54,73.5],[52.9,78.8],[53.2,82.7],[54.5,80],[55,76.5],[55.8,70.8],[55.8,69],[55.8,66.7],[56.2,66.5],[54.5,68.8],[55.5,74.5],[56,76],[56.5,78],[57.5,78],[57,75],[57.5,73],[58,75],[58.5,74],[58.5,76],[58.7,78],[59,80],[58,86.8],[58.4,68.5],[58.5,69.5],[58.7,64.8],[59.5,71.5],[60.5,71.3],[61,76],[61,78],[61.5,76],[62,78.5],[61.5,80],[61.5,83.2],[61.5,66.3],[61.5,62.3],[62.8,61.7],[57.2,62],[57.3,59.3],[56.5,56],[57.2,56],[53.5,58.5],[53.5,57.3],[53.7,54.5],[53.5,53.5],[55.9,51.4],[60.9,51.7],[62.3,46.8],[61.5,43.2],[62.6,42.3],[57,45],[57.8,44.7],[56.7,42.5],[57.5,41.8],[53.3,47.5],[53.3,44.2],
[52.5,34.2],[53.2,34.5],[54,34.8],[54.3,36.8],[55.3,34.5],[62.9,34.5],[54.1,32.3],[52.4,29.5],[53.3,29.6],[60.2,29.5],[58.2,28],[58.7,28.2],[55.3,27],[55.8,28.2],[54.8,26.7],[54,25.8],[53.8,25.3],[61.3,26.5],[59,24.2],[56,23.2],[59,21.5],[58.8,20],[58.5,19.2],[56,20],[51.2,18],[54,16.7],[56,17],[56.7,15.5],[58.5,14.5],[56,9.8],[56,9],[53,8],[56,7.3],[53,3.2],[64.2,17],[64.5,13.9],[69.2,12.8],
[63.5,76.5],[64.5,77.5],[64,75],[64.2,73.3],[65,67],[66.7,78.7],[66.7,76.8],[66.7,75],[66.2,74],[66.5,71.5],[66.7,70.3],[68.5,71.8],[69,71.5],[69.4,80.3],[69.7,80],[69.7,72.5],[69.7,70.3],[71.5,75.5],[71.8,77],[72.5,74.2],[72.7,76],[74.2,76],[74.3,79],[75.5,78],[75.8,80.3],[75.8,83.3],[75.8,88.2],[76,76],[75.3,75],[76,74],[76,73],[75.7,70.5],[77,72.2],[77,69.3],[75,64],[74.2,60.5],[79.5,81.2],[79.8,79],[80.1,83.3],[79.1,78],[81.7,77.2],[81.7,74.7],[82.3,75.2],[87.2,76.5],[87.2,73.8],[90.5,76.6],[97.7,76.7],[71,56],[72.1,54.7],[72.1,53],[72,51.5],[72,50.5],[72,48],[71.5,46.3],[69.2,45],[72.3,42],[72,41.7],[71.4,41.3],[72.1,36.3],[72.5,31],[72.5,30.3],[75,51.8],[76.2,53.8],[76.7,54.5],[76.6,48.8],[77,45],[82.9,36.7],[86.5,36.9],[86.5,54.6],[86.5,46.5],[86.5,45],[98.8,29]
];

const svg = document.getElementById('chart');
const NS = 'http://www.w3.org/2000/svg';

function makeX(left, right) { return v => left + (v - axisRange[0]) / (axisRange[1] - axisRange[0]) * (right - left); }
function makeY(bottom, top) { return v => bottom - (v - axisRange[0]) / (axisRange[1] - axisRange[0]) * (bottom - top); }

function node(parent, tag, attrs, text) {
  const el = document.createElementNS(NS, tag);
  for (const k in attrs) el.setAttribute(k, attrs[k]);
  if (text !== undefined) el.textContent = text;
  parent.appendChild(el);
  return el;
}

function drawPanel(id, tag, points, left, right, top, bottom) {
  const g = document.getElementById(id);
  const x = makeX(left, right);
  const y = makeY(bottom, top);

  minorTicks.forEach(t => {
    const v = node(g, 'line', {x1: x(t), x2: x(t), y1: top, y2: bottom, stroke: '#ebebeb', 'stroke-width': 2.2});
    
    
    const h = node(g, 'line', {x1: left, x2: right, y1: y(t), y2: y(t), stroke: '#ebebeb', 'stroke-width': 2.2});
    
    
  });
  majorTicks.forEach(t => {
    const v = node(g, 'line', {x1: x(t), x2: x(t), y1: top, y2: bottom, stroke: '#ebebeb', 'stroke-width': 4});
    
    
    const h = node(g, 'line', {x1: left, x2: right, y1: y(t), y2: y(t), stroke: '#ebebeb', 'stroke-width': 4});
    
    
  });

  points.forEach(p => {
    const c = node(g, 'circle', {cx: x(p[0]).toFixed(1), cy: y(p[1]).toFixed(1), r: 5.6, fill: '#000'});
    
    
  });

  const diag = node(g, 'line', {x1: x(axisRange[0]), y1: y(axisRange[0]), x2: x(axisRange[1]), y2: y(axisRange[1]), stroke: '#000', 'stroke-width': 4.4});
  
  

  const border = node(g, 'rect', {x: left, y: top, width: right - left, height: bottom - top, fill: 'none', stroke: '#333', 'stroke-width': 2.2});
  
  

  majorTicks.forEach(t => {
    const tx = node(g, 'line', {x1: x(t), x2: x(t), y1: bottom, y2: bottom + 12.5, stroke: '#333', 'stroke-width': 3.6});
    
    
    const lx = node(g, 'text', {x: x(t), y: bottom + 46.5, 'text-anchor': 'middle', class: 'tick'}, String(t));
    
    
    const ty = node(g, 'line', {x1: left - 12.5, x2: left, y1: y(t), y2: y(t), stroke: '#333', 'stroke-width': 3.6});
    
    
    const ly = node(g, 'text', {x: left - 23.5, y: y(t) + 11.5, 'text-anchor': 'end', class: 'tick'}, String(t));
    
    
  });

  const label = node(g, 'text', {x: left + 23.5, y: top + 55, class: 'tag'}, tag);
  
  
}

drawPanel('panel-a', tagLabels[0], zanonObserved, 115.3, 898.5, 1.5, 572.6);
drawPanel('panel-b', tagLabels[1], zanonPredicted, 1059.8, 1843, 1.5, 572.6);
drawPanel('panel-c', tagLabels[2], sergeObserved, 115.3, 898.5, 709.7, 1280.6);
drawPanel('panel-d', tagLabels[3], sergePredicted, 1059.8, 1843, 709.7, 1280.6);
</script>
</body>
</html>
